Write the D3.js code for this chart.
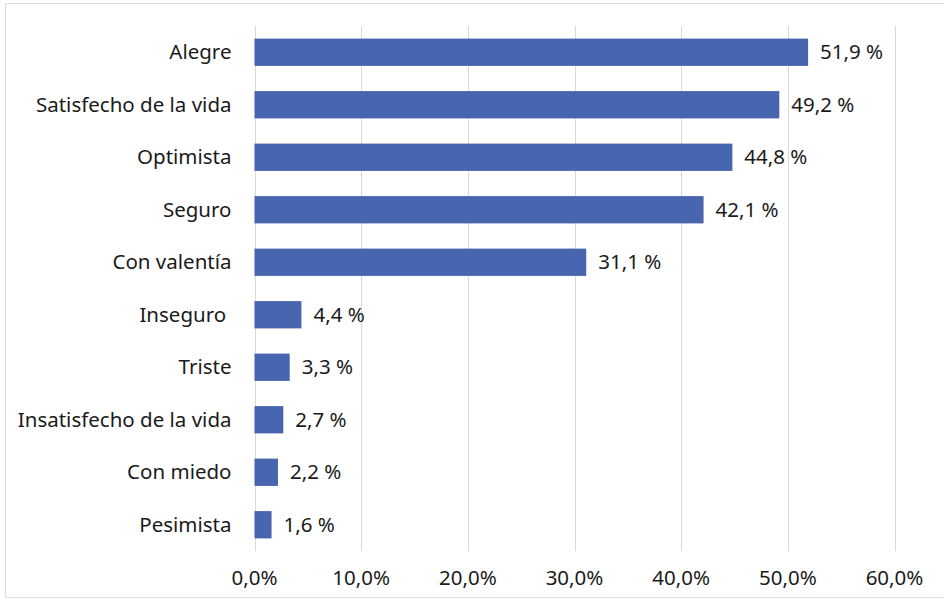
<!DOCTYPE html>
<html>
<head>
<meta charset="utf-8">
<script src="https://cdn.jsdelivr.net/npm/d3@7"></script>
<style>
  html, body { margin: 0; padding: 0; background: #fff; }
  svg { display: block; font-family: "Noto Sans", "Open Sans", sans-serif; }
  svg text { white-space: pre; }
</style>
</head>
<body>
<svg id="chart" width="944" height="601"></svg>
<script>
// ── Data ──────────────────────────────────
const categories = ['Alegre', 'Satisfecho de la vida', 'Optimista', 'Seguro', 'Con valentía',
                    'Inseguro ', 'Triste', 'Insatisfecho de la vida', 'Con miedo', 'Pesimista'];
const values     = [51.9, 49.2, 44.8, 42.1, 31.1, 4.4, 3.3, 2.7, 2.2, 1.6];
const valueLabels = ['51,9 %', '49,2 %', '44,8 %', '42,1 %', '31,1 %',
                     '4,4 %', '3,3 %', '2,7 %', '2,2 %', '1,6 %'];
const xTicks     = [0, 10, 20, 30, 40, 50, 60];

const svg = d3.select('#chart');
const W = 944;
const BAR = '#4865AF';
const FS = 20.5;

// chart frame (right edge runs off the picture)
svg.append('rect')
  .attr('x', 5.5).attr('y', 3.5)
  .attr('width', W + 10).attr('height', 594)
  .attr('fill', 'none').attr('stroke', '#dcdcdc');

const m = { left: 254.5, right: 894.5, top: 26, bottom: 551 };

const x = d3.scaleLinear().domain([0, 60]).range([m.left, m.right]);
const y = d3.scaleBand().domain(categories).range([m.top, m.bottom]).paddingInner(0.48).paddingOuter(0.24);

// gridlines
svg.append('g')
  .selectAll('line')
  .data(xTicks)
  .join('line')
  .attr('x1', d => Math.round(x(d)) + 0.5).attr('x2', d => Math.round(x(d)) + 0.5)
  .attr('y1', m.top).attr('y2', m.bottom)
  .attr('stroke', '#d9d9d9').attr('stroke-width', 1);

// bars
svg.append('g')
  .selectAll('rect')
  .data(values)
  .join('rect')
  .attr('x', x(0))
  .attr('y', (d, i) => y(categories[i]))
  .attr('width', d => x(d) - x(0))
  .attr('height', y.bandwidth())
  .attr('fill', BAR);

// value labels
svg.append('g')
  .selectAll('text')
  .data(values)
  .join('text')
  .attr('x', d => x(d) + 12)
  .attr('y', (d, i) => y(categories[i]) + y.bandwidth() / 2)
  .attr('dy', '0.35em')
  .attr('font-size', FS)
  .attr('fill', '#1a1a1a')
  .text((d, i) => valueLabels[i]);

// category labels
svg.append('g')
  .selectAll('text')
  .data(categories)
  .join('text')
  .attr('x', m.left - 23)
  .attr('y', d => y(d) + y.bandwidth() / 2)
  .attr('dy', '0.35em')
  .attr('text-anchor', 'end')
  .attr('font-size', FS)
  .attr('fill', '#1a1a1a')
  .text(d => d);

// x axis labels
svg.append('g')
  .selectAll('text')
  .data(xTicks)
  .join('text')
  .attr('x', d => x(d))
  .attr('y', 578)
  .attr('dy', '0.35em')
  .attr('text-anchor', 'middle')
  .attr('font-size', FS)
  .attr('fill', '#1a1a1a')
  .text(d => d.toFixed(1).replace('.', ',') + '%');
</script>
</body>
</html>
